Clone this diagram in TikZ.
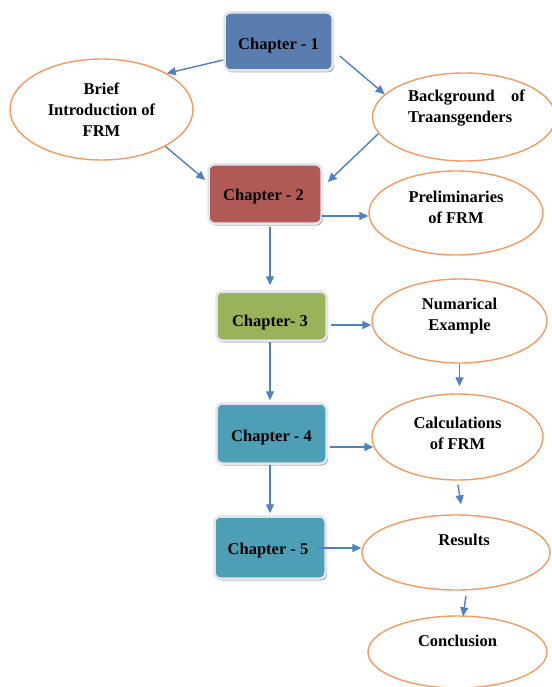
\documentclass[tikz,border=0pt]{standalone}
\usepackage{fontspec}
\setmainfont{Liberation Serif}
\usetikzlibrary{arrows.meta,shapes.geometric,calc,shadows}
\definecolor{arrowc}{HTML}{4F81BD}
\definecolor{ovalc}{HTML}{F19A63}
\definecolor{boxedge}{HTML}{E2E6EB}
\definecolor{cone}{HTML}{5A7DB0}
\definecolor{ctwo}{HTML}{B05A57}
\definecolor{cthree}{HTML}{9AB25A}
\definecolor{cfour}{HTML}{4E9EB5}
\begin{document}
\begin{tikzpicture}[x=1pt,y=-1pt,
  chbox/.style={rectangle, rounded corners=6pt, draw=boxedge, line width=2.5pt, inner sep=0pt,
    drop shadow={shadow xshift=1.5pt,shadow yshift=-2pt,opacity=0.3,fill=black}},
  oval/.style={ellipse, draw=ovalc, line width=1.4pt, inner sep=0pt, fill=white},
  txt/.style={font=\fontsize{16.5}{21}\selectfont\bfseries, align=center, text=black},
  conn/.style={draw=arrowc, line width=1.4pt, -{Triangle[length=9pt,width=8pt]}}
]
\useasboundingbox (0,0) rectangle (551,687);
\fill[white] (0,0) rectangle (551,687);

% chapter boxes
\node[chbox, fill=cone, minimum width=108pt, minimum height=58pt,
  label={[txt,yshift=-4pt]center:Chapter - 1}] (ch1) at (278.5,41.5) {};
\node[chbox, fill=ctwo, minimum width=113pt, minimum height=59pt,
  label={[txt,yshift=-3pt,xshift=-1.5pt]center:Chapter - 2}] (ch2) at (265,194) {};
\node[chbox, fill=cthree, minimum width=110pt, minimum height=49pt,
  label={[txt,yshift=-7pt,xshift=-1.5pt]center:Chapter- 3}] (ch3) at (271.5,316) {};
\node[chbox, fill=cfour, minimum width=110pt, minimum height=60pt,
  label={[txt,yshift=-4.5pt]center:Chapter - 4}] (ch4) at (271.5,433.5) {};
\node[chbox, fill=cfour, minimum width=111pt, minimum height=62pt,
  label={[txt,yshift=-3.5pt,xshift=-2pt]center:Chapter - 5}] (ch5) at (270,547.5) {};

% ellipses
\node[oval, minimum width=183pt, minimum height=101pt,
  label={[txt]center:Brief\\Introduction of\\FRM}] (brief) at (101.5,109.5) {};
\node[oval, minimum width=183pt, minimum height=88pt,
  label={[txt,align=left,yshift=9pt,xshift=2.5pt]center:\makebox[117pt][s]{Background of}\\Traansgenders}] (bg) at (464,117) {};
\node[oval, minimum width=174pt, minimum height=84pt,
  label={[txt,yshift=6pt]center:Preliminaries\\of FRM}] (prelim) at (456,213) {};
\node[oval, minimum width=175pt, minimum height=84pt,
  label={[txt,yshift=5pt]center:Numarical\\Example}] (num) at (459.5,321) {};
\node[oval, minimum width=171pt, minimum height=86pt,
  label={[txt,yshift=4pt]center:Calculations\\of FRM}] (calc) at (457.5,437) {};
\node[oval, minimum width=188pt, minimum height=75pt,
  label={[txt,yshift=13pt,xshift=8pt]center:Results}] (res) at (456,552.5) {};
\node[oval, minimum width=179pt, minimum height=72pt,
  label={[txt,yshift=11pt]center:Conclusion}] (conc) at (457.5,652) {};

% connectors
\draw[conn] ($(ch1.west)+(0,18.5)$) -- (brief.29);
\draw[conn] ($(ch1.east)+(6,14.5)$) -- (bg.164);
\draw[conn] (brief.-30) -- ($(ch2.west)+(-2,-14)$);
\draw[conn] (bg.191) -- ($(ch2.east)+(5,-12)$);

\coordinate (s5) at ($(ch2.east)+(-1,22)$);
\draw[conn] (s5) -- (s5 -| prelim.west);

\coordinate (s6) at ($(ch2.south)+(5,2)$);
\draw[conn, shorten >=5pt] (s6) -- (s6 |- ch3.north);

\coordinate (s7) at ($(ch3.east)+(3,9)$);
\draw[conn] (s7) -- (s7 -| num.west);

\coordinate (s8) at ($(ch3.south)+(-1.5,0)$);
\draw[conn, shorten >=2pt] (s8) -- (s8 |- ch4.north);

\draw[conn, shorten >=7pt] (num.south) -- (num.south |- calc.north);

\coordinate (s10) at ($(ch4.east)+(2,13.5)$);
\draw[conn] (s10) -- ($(s10 -| calc.west)+(2,0)$);

\coordinate (s11) at ($(ch4.south)+(-1.5,0)$);
\draw[conn, shorten >=2pt] (s11) -- (s11 |- ch5.north);

\draw[conn] ($(calc.south)+(0.5,4)$) -- ($(res.north)+(5,-10)$);

\coordinate (s13) at ($(ch5.east)+(-9,0.5)$);
\draw[conn] (s13) -- (s13 -| res.west);

\draw[conn] ($(res.south)+(10,5)$) -- ($(conc.north)+(5.5,1)$);
\end{tikzpicture}
\end{document}
